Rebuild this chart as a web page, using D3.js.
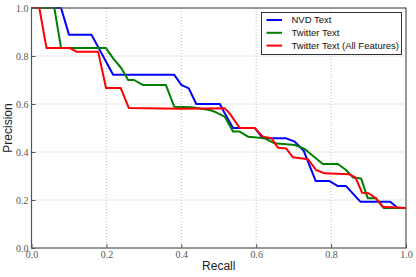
<!DOCTYPE html>
<html>
<head>
<meta charset="utf-8">
<script src="https://cdn.jsdelivr.net/npm/d3@7"></script>
<style>
  html, body { margin: 0; padding: 0; background: #fff; }
  svg { display: block; }
</style>
</head>
<body>
<svg id="chart" width="416" height="277"></svg>
<script>
// ---- data ----
const seriesNames = ["NVD Text", "Twitter Text", "Twitter Text (All Features)"];
const seriesColors = ["#0000ff", "#008000", "#ff0000"];
const xTicks = [0.0, 0.2, 0.4, 0.6, 0.8, 1.0];
const yTicks = [0.0, 0.2, 0.4, 0.6, 0.8, 1.0];

const nvdText = [
  [0,1],[0.079,1],[0.1,0.889],[0.16,0.889],[0.218,0.722],[0.381,0.722],[0.40,0.68],
  [0.42,0.665],[0.44,0.60],[0.503,0.60],[0.516,0.561],[0.538,0.50],[0.596,0.50],
  [0.618,0.457],[0.68,0.457],[0.703,0.443],[0.727,0.405],[0.759,0.279],[0.796,0.279],
  [0.818,0.258],[0.84,0.258],[0.878,0.193],[0.958,0.193],[0.978,0.167],[1.0,0.167]
];
const twitterText = [
  [0,1],[0.061,1],[0.079,0.833],[0.199,0.833],[0.218,0.79],[0.24,0.749],[0.258,0.70],
  [0.274,0.70],[0.298,0.679],[0.359,0.679],[0.381,0.589],[0.427,0.586],[0.476,0.575],
  [0.489,0.568],[0.516,0.547],[0.538,0.485],[0.556,0.485],[0.578,0.464],[0.623,0.457],
  [0.649,0.436],[0.703,0.429],[0.729,0.413],[0.743,0.395],[0.778,0.35],[0.818,0.35],
  [0.84,0.325],[0.858,0.294],[0.88,0.29],[0.898,0.207],[0.92,0.207],[0.94,0.167],[1.0,0.167]
];
const twitterAll = [
  [0,1],[0.021,1],[0.04,0.833],[0.103,0.833],[0.12,0.818],[0.178,0.818],[0.199,0.667],
  [0.238,0.667],[0.26,0.583],[0.40,0.580],[0.516,0.582],[0.529,0.561],[0.556,0.50],
  [0.596,0.50],[0.618,0.464],[0.641,0.457],[0.658,0.418],[0.68,0.415],[0.698,0.378],
  [0.738,0.37],[0.76,0.325],[0.783,0.311],[0.849,0.307],[0.865,0.294],[0.883,0.23],
  [0.9,0.228],[0.92,0.207],[0.938,0.172],[1.0,0.167]
];
const allSeries = [nvdText, twitterText, twitterAll];

// ---- layout ----
const svg = d3.select("#chart");
const mLeft = 31.5, mRight = 406, mTop = 8, mBottom = 248;
const x = d3.scaleLinear().domain([0, 1]).range([mLeft, mRight]);
const y = d3.scaleLinear().domain([0, 1]).range([mBottom, mTop]);

svg.append("rect").attr("width", 416).attr("height", 277).attr("fill", "#fff");

// grid
const grid = svg.append("g");
grid.selectAll(".gx").data(xTicks.slice(1, -1)).enter().append("line")
  .attr("x1", d => x(d)).attr("x2", d => x(d)).attr("y1", mTop).attr("y2", mBottom)
  .attr("stroke", "#aaa").attr("stroke-width", 0.8).attr("stroke-dasharray", "1,2");
grid.selectAll(".gy").data(yTicks.slice(1, -1)).enter().append("line")
  .attr("y1", d => y(d)).attr("y2", d => y(d)).attr("x1", mLeft).attr("x2", mRight)
  .attr("stroke", "#aaa").attr("stroke-width", 0.8).attr("stroke-dasharray", "1,2");

// lines
const line = d3.line().x(d => x(d[0])).y(d => y(d[1]));
allSeries.forEach((s, i) => {
  svg.append("path").datum(s).attr("d", line)
    .attr("fill", "none").attr("stroke", seriesColors[i])
    .attr("stroke-width", 2).attr("stroke-linejoin", "round");
});

// frame
svg.append("rect").attr("x", mLeft).attr("y", mTop)
  .attr("width", mRight - mLeft).attr("height", mBottom - mTop)
  .attr("fill", "none").attr("stroke", "#555").attr("stroke-width", 1.2);

// axes
const xAxis = d3.axisBottom(x).tickValues(xTicks).tickFormat(d3.format(".1f")).tickSize(-4).tickPadding(4);
const yAxis = d3.axisLeft(y).tickValues(yTicks).tickFormat(d3.format(".1f")).tickSize(-4).tickPadding(3);
const gx = svg.append("g").attr("transform", `translate(0,${mBottom})`).call(xAxis);
const gy = svg.append("g").attr("transform", `translate(${mLeft},0)`).call(yAxis);
[gx, gy].forEach(g => {
  g.select(".domain").remove();
  g.selectAll(".tick line").attr("stroke", "#555");
  g.selectAll(".tick text").attr("fill", "#555")
    .style("font-family", "'Liberation Serif', 'DejaVu Serif', serif").style("font-size", "10px");
});
gx.selectAll(".tick text").attr("dy", "0.6em");

// axis titles
svg.append("text").attr("x", (mLeft + mRight) / 2).attr("y", 270)
  .attr("text-anchor", "middle").attr("fill", "#222")
  .style("font-family", "'Liberation Sans', Arial, sans-serif").style("font-size", "12px")
  .text("Recall");
svg.append("text").attr("transform", `translate(12,${(mTop + mBottom) / 2}) rotate(-90)`)
  .attr("text-anchor", "middle").attr("fill", "#222")
  .style("font-family", "'Liberation Sans', Arial, sans-serif").style("font-size", "12px")
  .text("Precision");

// legend
const lg = svg.append("g");
lg.append("rect").attr("x", 261.5).attr("y", 12.5).attr("width", 140).attr("height", 42)
  .attr("fill", "#fff").attr("stroke", "#333").attr("stroke-width", 1);
seriesNames.forEach((name, i) => {
  const yy = 20 + i * 12.8;
  lg.append("line").attr("x1", 266.5).attr("x2", 282).attr("y1", yy).attr("y2", yy)
    .attr("stroke", seriesColors[i]).attr("stroke-width", 2);
  lg.append("text").attr("x", 291.5).attr("y", yy).attr("dy", "0.35em")
    .attr("fill", "#111")
    .style("font-family", "'Liberation Sans', Arial, sans-serif").style("font-size", "9.5px")
    .text(name);
});
</script>
</body>
</html>
